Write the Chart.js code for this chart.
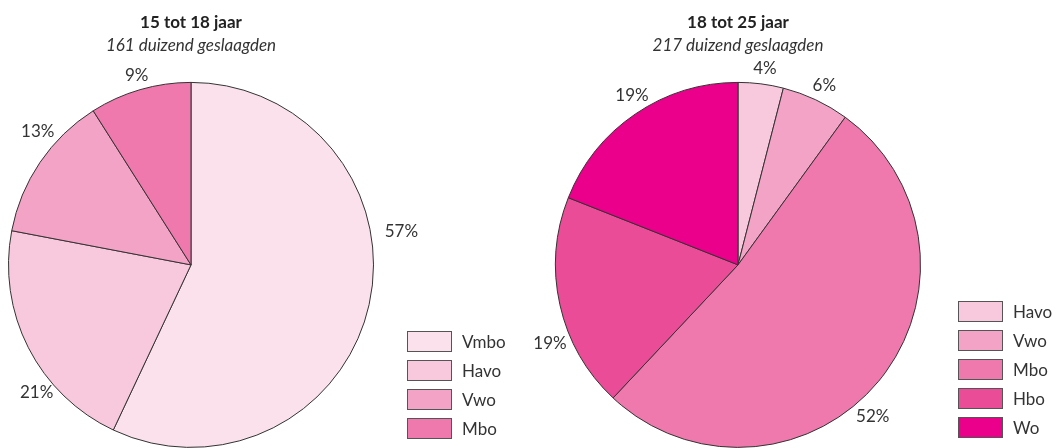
<!DOCTYPE html>
<html>
<head>
<meta charset="utf-8">
<script src="https://cdn.jsdelivr.net/npm/chart.js@4"></script>
<style>
    body { margin: 0; background: #fff; font-family: Lato, sans-serif; color: #333; }
    #wrap { position: relative; width: 1056px; height: 448px; overflow: hidden; }
    .pie { position: absolute; top: 0; }
    .legend { position: absolute; font-size: 17px; }
    .legend div { height: 29px; display: flex; align-items: center; }
    .legend span.box { width: 45px; height: 21px; border: 1px solid #555; margin-right: 10px; box-sizing: border-box; }
</style>
</head>
<body>
<div id="wrap">
    <div class="pie" style="left:0;width:500px;height:448px"><canvas id="young"></canvas></div>
    <div class="pie" style="left:500px;width:556px;height:448px"><canvas id="older"></canvas></div>
    <div class="legend" id="legend-young" style="left:407px;top:327px"></div>
    <div class="legend" id="legend-older" style="left:958px;top:297px"></div>
</div>
<script>
const youngLabels = ['Vmbo', 'Havo', 'Vwo', 'Mbo'];
const youngValues = [57, 21, 13, 9];
const youngColors = ['#fae1ec', '#f8c9dd', '#f3a3c6', '#ef79ad'];

const olderLabels = ['Havo', 'Vwo', 'Mbo', 'Hbo', 'Wo'];
const olderValues = [4, 6, 52, 19, 19];
const olderColors = ['#f8c9dd', '#f3a3c6', '#ef79ad', '#ea4c98', '#ea008a'];

// percentage labels outside the slices: [angle from top in degrees, distance from centre]
const pctLabels = {
    id: 'pctLabels',
    afterDatasetsDraw(chart, args, opts) {
        const ctx = chart.ctx;
        const arcs = chart.getDatasetMeta(0).data;
        const values = chart.data.datasets[0].data;
        ctx.save();
        ctx.font = '17px Lato';
        ctx.fillStyle = '#333';
        ctx.textAlign = 'center';
        ctx.textBaseline = 'middle';
        arcs.forEach((arc, i) => {
            const p = opts.spots[i];
            const a = p[0] * Math.PI / 180;
            ctx.fillText(values[i] + '%', arc.x + p[1] * Math.sin(a), arc.y - p[1] * Math.cos(a));
        });
        ctx.restore();
    }
};

function makePie(id, labels, values, colors, title, subtitle, padding, spots) {
    return new Chart(document.getElementById(id), {
        type: 'pie',
        data: {
            labels: labels,
            datasets: [{
                data: values,
                backgroundColor: colors,
                borderColor: '#333',
                borderWidth: 1
            }]
        },
        plugins: [pctLabels],
        options: {
            responsive: true,
            maintainAspectRatio: false,
            animation: false,
            layout: { padding: padding },
            plugins: {
                legend: { display: false },
                tooltip: { enabled: false },
                title: {
                    display: true,
                    text: title,
                    color: '#222',
                    font: { family: 'Lato', size: 17, weight: 'bold' },
                    padding: { top: 12, bottom: 3 }
                },
                subtitle: {
                    display: true,
                    text: subtitle,
                    color: '#333',
                    font: { family: 'Lato', size: 17, style: 'italic' },
                    padding: { top: 0, bottom: 26 }
                },
                pctLabels: { spots: spots }
            }
        }
    });
}

function makeLegend(id, labels, colors) {
    const el = document.getElementById(id);
    labels.forEach((l, i) => {
        const row = document.createElement('div');
        row.innerHTML = '<span class="box" style="background:' + colors[i] + '"></span>' + l;
        el.appendChild(row);
    });
}

makePie('young', youngLabels, youngValues, youngColors,
    '15 tot 18 jaar', '161 duizend geslaagden',
    { left: 8, right: 126, top: 0, bottom: 0 },
    [[81, 213], [230.5, 200], [311, 203], [344, 197]]);

makePie('older', olderLabels, olderValues, olderColors,
    '18 tot 25 jaar', '217 duizend geslaagden',
    { left: 55, right: 135, top: 0, bottom: 0 },
    [[7.8, 198], [25.7, 199], [138.4, 203], [247.2, 204], [328, 200]]);

makeLegend('legend-young', youngLabels, youngColors);
makeLegend('legend-older', olderLabels, olderColors);
</script>
</body>
</html>
